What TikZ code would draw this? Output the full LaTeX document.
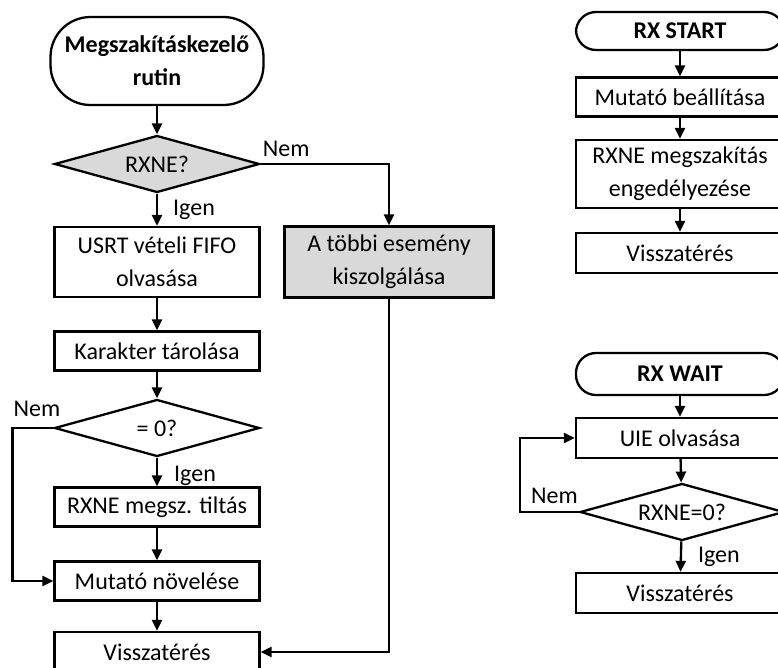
\documentclass[tikz,border=0pt]{standalone}
\usepackage{fontspec}
\setmainfont{Carlito}
\usepackage{xcolor}
\usetikzlibrary{shapes,arrows.meta,positioning}
\definecolor{eventgray}{HTML}{D9D9D9}
\tikzset{
    txt/.style={font=\fontsize{24}{33}\selectfont},
    box/.style={txt, draw, line width=2.3pt, minimum width=205pt, minimum height=39pt, inner sep=0pt, align=center},
    term/.style={box, rounded corners=20pt, font=\fontsize{24}{33}\selectfont\bfseries},
    decision/.style={txt, draw, line width=2.3pt, diamond, aspect=3.6, minimum width=205pt, minimum height=57pt, inner sep=0pt},
    arr/.style={line width=2.3pt, -{Triangle[length=11pt,width=10pt]}},
    lbl/.style={txt, inner sep=0pt}
}

\begin{document}
\begin{tikzpicture}[x=1pt, y=-1pt]
            \useasboundingbox (0,0) rectangle (778,667);

            % Interrupt handler
            \node[term, minimum width=213pt, minimum height=88pt, rounded corners=40pt] (isr) at (157,61) {Megszakításkezelő\\rutin};
            \node[decision, fill=eventgray] (rxne) at (157,164) {RXNE?};
            \node[box, minimum height=70pt] (usrt) at (157,262) {USRT vételi FIFO\\olvasása};
            \node[box, fill=eventgray, minimum width=209pt, minimum height=71pt] (other) at (389,262) {A többi esemény\\kiszolgálása};
            \node[box] (store) at (157,351) {Karakter tárolása};
            \node[decision] (zero) at (157,428) {= 0?};
            \node[box] (disable) at (157,507) {RXNE megsz. tiltás};
            \node[box] (inc) at (157,581) {Mutató növelése};
            \node[box, minimum height=40pt] (ret) at (157,652) {Visszatérés};

            \draw[arr] (isr) -- (rxne);
            \draw[arr] (rxne) -- node[lbl, anchor=west, xshift=15pt] {Igen} (usrt);
            \draw[arr] (rxne.east) -| (other.north);
            \node[lbl, anchor=south west, xshift=2pt, yshift=7pt] (nem1) at (rxne.east) {Nem};
            \draw[arr] (usrt) -- (store);
            \draw[arr] (store) -- (zero);
            \draw[arr] (zero) -- node[lbl, anchor=west, xshift=16pt, yshift=-4pt] {Igen} (disable);
            \draw[arr] (zero.west) -- ++(-41,0) |- (inc.west);
            \node[lbl, anchor=south east, xshift=7pt, yshift=11pt] (nem2) at (zero.west) {Nem};
            \draw[arr] (disable) -- (inc);
            \draw[arr] (inc) -- (ret);
            \draw[arr] (other.south) |- (ret.east);

            % RX START
            \node[term, minimum width=208pt, minimum height=38pt] (start) at (680,31) {RX START};
            \node[box, minimum width=208pt] (ptr) at (680,97) {Mutató beállítása};
            \node[box, minimum width=208pt, minimum height=68pt] (enable) at (680,174) {RXNE megszakítás\\engedélyezése};
            \node[box, minimum width=208pt, minimum height=40pt] (ret1) at (680,253) {Visszatérés};

            \draw[arr] (start) -- (ptr);
            \draw[arr] (ptr) -- (enable);
            \draw[arr] (enable) -- (ret1);

            % RX WAIT
            \node[term, minimum width=208pt, minimum height=42pt] (wait) at (680,374) {RX WAIT};
            \node[box, minimum width=208pt, minimum height=40pt] (uie) at (680,438) {UIE olvasása};
            \node[decision, minimum width=204pt] (empty) at (682,512) {RXNE=0?};
            \node[box, minimum width=208pt, minimum height=40pt] (ret2) at (680,593) {Visszatérés};

            \draw[arr] (wait) -- (uie);
            \draw[arr] (uie) -- (empty);
            \draw[arr] (empty) -- node[lbl, anchor=west, xshift=16pt] {Igen} (ret2);
            \draw[arr] (empty.west) -- ++(-59,0) |- (uie.west);
            \node[lbl, anchor=south east, xshift=-1pt, yshift=8pt] (nem3) at (empty.west) {Nem};
        \end{tikzpicture}
\end{document}
